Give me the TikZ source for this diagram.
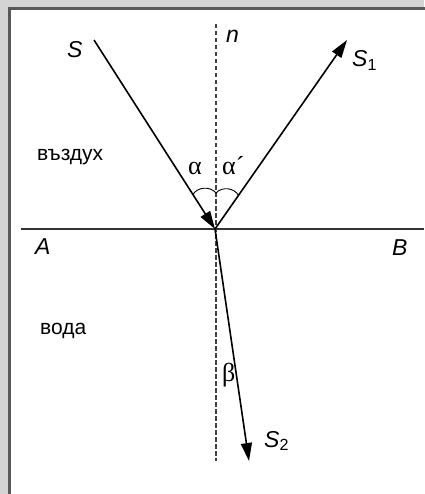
\documentclass[tikz,border=0pt]{standalone}
\usepackage{fontspec}
\setmainfont{Liberation Sans}
\newfontfamily\greekfont{Liberation Serif}
\usetikzlibrary{arrows.meta}

\begin{document}
\begin{tikzpicture}[x=1pt,y=-1pt,>={Triangle[length=18pt,width=11pt]},
  ray/.style={->,line width=1.6pt},
  arcline/.style={line width=0.9pt,bend left=55},
  lbl/.style={font=\fontsize{23}{26}\selectfont\itshape,inner sep=0pt,anchor=base west},
  medium/.style={font=\fontsize{21}{24}\selectfont,inner sep=0pt,anchor=base west},
  angl/.style={font=\fontsize{26}{28}\selectfont\greekfont,inner sep=0pt,anchor=base west}]
  \useasboundingbox (0,0) rectangle (424,494);
  \fill[black!17] (0,0) rectangle (424,494);
  \filldraw[fill=white,draw=black!65,line width=2.2pt] (9.5,8.5) rectangle (440,510);
  % surface and normal
  \coordinate (O) at (215,229);
  \coordinate (A0) at (21,229);
  \coordinate (B0) at (424,229);
  \coordinate (N1) at (216,24);
  \coordinate (N2) at (216,461);
  \draw[line width=1.5pt,black!80] (A0) -- (B0);
  \draw[dash pattern=on 4.5pt off 2.5pt,line width=1.3pt,black!75] (N1) -- (N2);
  % rays
  \coordinate (S) at (94,40);
  \coordinate (S1) at (347,40);
  \coordinate (S2) at (249,461);
  \draw[ray] (S) -- (O);
  \draw[ray] (O) -- (S1);
  \draw[ray] (O) -- (S2);
  % angle arcs
  \coordinate (P1) at (192.9,194.5);
  \coordinate (Q) at (216,193);
  \coordinate (P2) at (238.5,195.4);
  \draw[arcline] (P1) to (Q);
  \draw[arcline] (Q) to (P2);
  % labels
  \node[lbl] (lS) at (67,58) {S};
  \node[lbl] (ln) at (226,43) {n};
  \node[lbl] (lS1) at (352,67) {S\textsubscript{\upshape 1}};
  \node[lbl] (lS2) at (264,447) {S\textsubscript{\upshape 2}};
  \node[lbl] (lA) at (35,254) {A};
  \node[lbl] (lB) at (392,255) {B};
  \node[medium] (lair) at (37,161) {въздух};
  \node[medium] (lwater) at (40,334) {вода};
  \node[angl] (la) at (188,175) {α};
  \node[angl] (lb) at (222,175) {α´};
  \node[angl] (lc) at (222,381) {β};
\end{tikzpicture}
\end{document}
